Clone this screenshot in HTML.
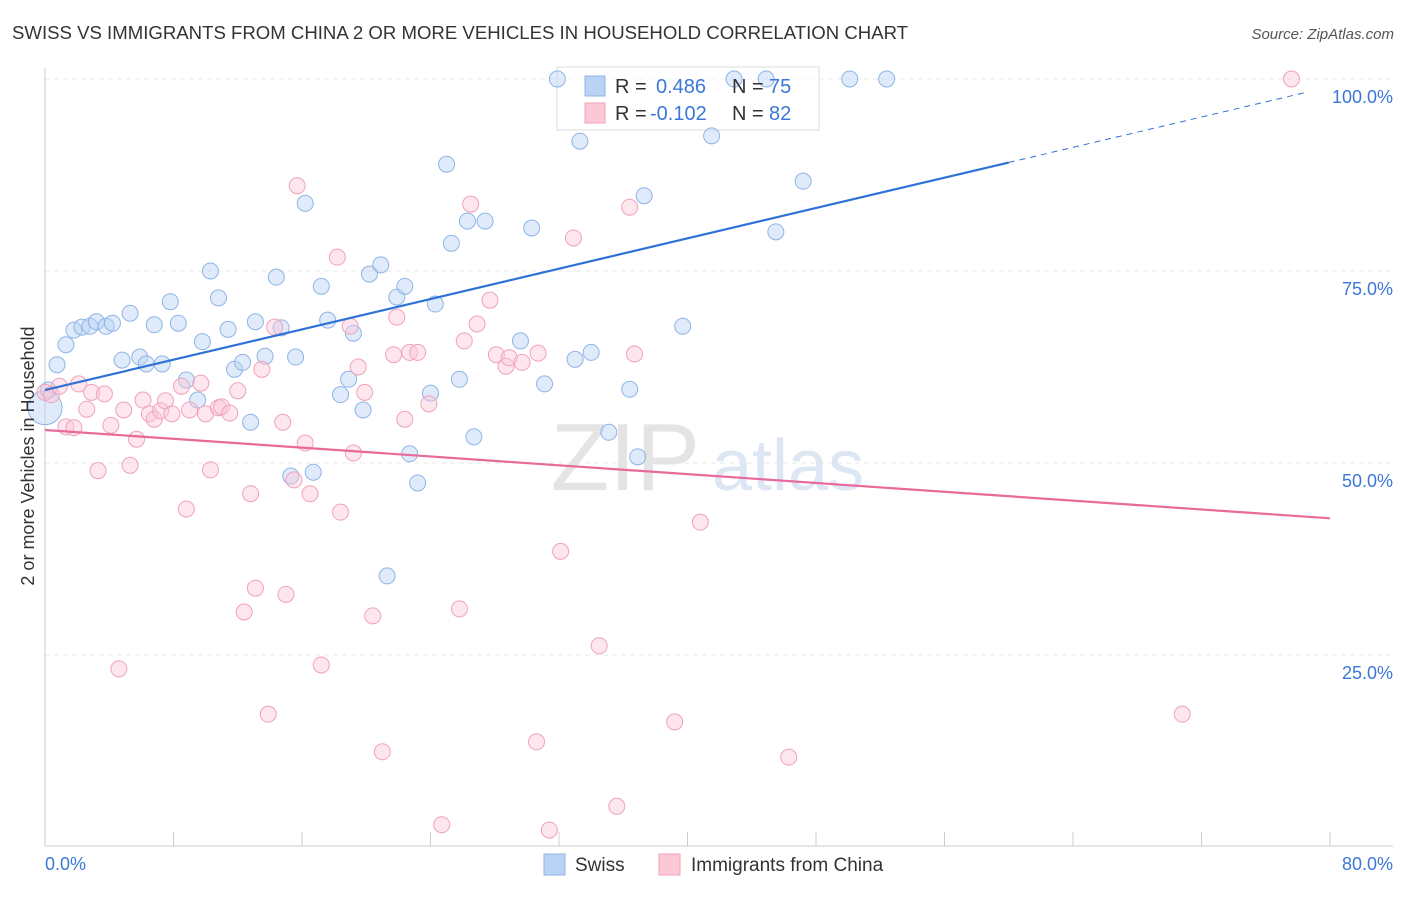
<!DOCTYPE html>
<html><head><meta charset="utf-8"><style>
body{margin:0;background:#fff;font-family:"Liberation Sans",sans-serif;}
svg text{font-family:"Liberation Sans",sans-serif;}
</style></head><body>
<svg id="chart" width="1406" height="892">
<text x="12" y="39" font-size="18.6" fill="#333">SWISS VS IMMIGRANTS FROM CHINA 2 OR MORE VEHICLES IN HOUSEHOLD CORRELATION CHART</text>
<text x="1394" y="39" font-size="15" fill="#555" text-anchor="end" font-style="italic">Source: ZipAtlas.com</text>
<text x="700" y="490" font-size="96" fill="#e4e4e4" text-anchor="end" font-family="Liberation Serif">ZIP</text>
<text x="712" y="490" font-size="72" fill="#dde6f3">atlas</text>
<g id="grid"></g><g id="axes"></g>
<g>
<rect x="557" y="67" width="262" height="63" fill="#fff" fill-opacity="0.6" stroke="#ddd"/>
</g>
<g id="pts"></g><g id="lines"></g>
<text transform="translate(34,456) rotate(-90)" font-size="18" fill="#333" text-anchor="middle">2 or more Vehicles in Household</text>
<g>
<rect x="585" y="76" width="20" height="20" fill="#b9d3f5" stroke="#8fb4e6"/>
<rect x="585" y="103" width="20" height="20" fill="#fbc8d6" stroke="#f0a2ba"/>
<text x="615" y="93" font-size="20" fill="#333">R =</text><text x="656" y="93" font-size="20" fill="#3b78d8">0.486</text>
<text x="732" y="93" font-size="20" fill="#333">N =</text><text x="769" y="93" font-size="20" fill="#3b78d8">75</text>
<text x="615" y="120" font-size="20" fill="#333">R =</text><text x="650" y="120" font-size="20" fill="#3b78d8">-0.102</text>
<text x="732" y="120" font-size="20" fill="#333">N =</text><text x="769" y="120" font-size="20" fill="#3b78d8">82</text>
</g>
<g>
<rect x="544" y="854" width="21" height="21" fill="#b9d3f5" stroke="#8fb4e6"/>
<text x="575" y="871" font-size="19" fill="#333">Swiss</text>
<rect x="659" y="854" width="21" height="21" fill="#fbc8d6" stroke="#f0a2ba"/>
<text x="691" y="871" font-size="19" fill="#333">Immigrants from China</text>
</g>
</svg>
<script>
const swissX=[0.0,0.75,1.3,1.8,2.3,2.8,3.2,3.8,4.2,4.8,5.3,5.9,6.3,6.8,7.3,7.8,8.3,8.8,9.5,9.8,10.3,10.8,11.4,11.8,12.3,12.8,13.1,13.7,14.4,14.7,15.3,15.6,16.2,16.7,17.2,17.6,18.4,18.9,19.2,19.8,20.2,20.9,21.9,22.4,22.7,23.2,24.0,24.3,25.0,25.3,25.8,26.3,26.7,27.4,29.6,30.3,31.1,31.9,33.0,33.3,34.0,35.1,36.4,36.9,37.3,39.7,41.5,42.9,44.9,45.5,47.2,50.1,52.4,21.3,0.2];
const swissY=[57.2,62.8,65.4,67.3,67.7,67.8,68.4,67.8,68.2,63.4,69.5,63.8,62.9,68.0,62.9,71.0,68.2,60.8,58.2,65.8,75.0,71.5,67.4,62.2,63.1,55.3,68.4,63.9,74.2,67.6,48.3,63.8,83.8,48.8,73.0,68.6,58.9,60.9,66.9,56.9,74.6,75.8,71.6,73.0,51.2,47.4,59.1,70.7,88.9,78.6,60.9,81.5,53.4,81.5,65.9,80.6,60.3,100,63.5,91.9,64.4,54.0,59.6,50.8,84.8,67.8,92.6,100,100,80.1,86.7,100,100,35.3,59.5];
const chinaX=[0,0.4,0.9,1.3,1.8,2.1,2.6,2.9,3.3,3.7,4.1,4.9,5.3,5.7,6.1,6.5,6.8,7.2,7.5,7.9,8.5,8.8,9.0,9.7,10.0,10.3,10.8,11.0,11.5,12.0,12.4,12.8,13.1,13.5,13.9,14.3,14.8,15.0,15.5,15.7,16.2,16.5,17.2,18.2,18.4,19.0,19.2,19.5,19.9,20.4,21.0,21.7,21.9,22.4,22.7,23.2,23.9,24.7,25.8,26.1,26.5,26.9,27.7,28.1,28.7,28.9,29.7,30.6,30.7,31.4,32.1,32.9,34.5,35.6,36.4,36.7,39.2,40.8,46.3,70.8,77.6,4.6];
const chinaY=[59.2,58.9,60.0,54.7,54.6,60.3,57.0,59.2,49.0,59.0,54.9,56.9,49.7,53.1,58.2,56.4,55.7,56.8,58.1,56.4,60.0,44.0,56.9,60.4,56.4,49.1,57.2,57.3,56.5,59.4,30.6,46.0,33.7,62.2,17.3,67.7,55.3,32.9,47.8,86.1,52.6,46.0,23.7,76.8,43.6,67.8,51.3,62.5,59.2,30.1,12.4,64.1,69.0,55.7,64.4,64.4,57.7,2.9,31.0,65.9,83.7,68.1,71.2,64.1,62.6,63.7,63.1,13.7,64.3,2.2,38.5,79.3,26.2,5.3,83.3,64.2,16.3,42.3,11.7,17.3,100,23.2];
const swissTrend=[59.5,99.0]; // y at x=0 and x=80
const chinaTrend=[54.3,42.8];
const xTicks=[0,8,16,24,32,40,48,56,64,72,80];
const yTicks=[25,50,75,100];
const yTickLabels=["25.0%","50.0%","75.0%","100.0%"];
const xAxisLabels=["0.0%","80.0%"];

const X=v=>45+v/80*1285, Y=v=>847-v/100*768;
const NS="http://www.w3.org/2000/svg";
function mk(parent,tag,attrs){const e=document.createElementNS(NS,tag);for(const k in attrs)e.setAttribute(k,attrs[k]);document.getElementById(parent).appendChild(e);return e;}
yTicks.forEach((t,i)=>{
  const l=mk('grid','line',{x1:45,x2:1393,y1:Y(t),y2:Y(t),stroke:'#e8e8e8','stroke-dasharray':'5,4'});
  
  
  const tx=mk('axes','text',{x:1393,y:Y(t)+24,'font-size':18,fill:'#3b78d8','text-anchor':'end'});
  tx.textContent=yTickLabels[i];
  
  
});
const ax=mk('axes','line',{x1:45,x2:1393,y1:846,y2:846,stroke:'#ccc'});


const ay=mk('axes','line',{x1:45,x2:45,y1:68,y2:846,stroke:'#ccc'});


xTicks.forEach(t=>{
  const l=mk('axes','line',{x1:X(t),x2:X(t),y1:832,y2:846,stroke:'#ccc'});
  
  
});
[[0,'start',45],[80,'end',1393]].forEach((a,i)=>{
  const t=mk('axes','text',{x:a[2],y:870,'font-size':18,fill:'#3b78d8','text-anchor':a[1]});
  t.textContent=xAxisLabels[i];
  
  
});
swissX.forEach((v,i)=>{
  const big=i===0;
  const c=mk('pts','circle',{cx:X(v),cy:Y(swissY[i]),r:big?17:8,fill:'#b9d3f5','fill-opacity':0.45,stroke:'#8fb4e6','stroke-width':1});
  
  
});
chinaX.forEach((v,i)=>{
  const c=mk('pts','circle',{cx:X(v),cy:Y(chinaY[i]),r:8,fill:'#fbc8d6','fill-opacity':0.45,stroke:'#f0a2ba','stroke-width':1});
  
  
});
const sy=x=>swissTrend[0]+(swissTrend[1]-swissTrend[0])*x/80;
const l1=mk('lines','line',{x1:X(0),y1:Y(sy(0)),x2:X(60),y2:Y(sy(60)),stroke:'#2f72d6','stroke-width':2.2});


const l2=mk('lines','line',{x1:X(60),y1:Y(sy(60)),x2:X(78.5),y2:Y(sy(78.5)),stroke:'#2f72d6','stroke-width':1,'stroke-dasharray':'6,5'});


const l3=mk('lines','line',{x1:X(0),y1:Y(chinaTrend[0]),x2:X(80),y2:Y(chinaTrend[1]),stroke:'#e8699a','stroke-width':2.2});


</script>
</body></html>
